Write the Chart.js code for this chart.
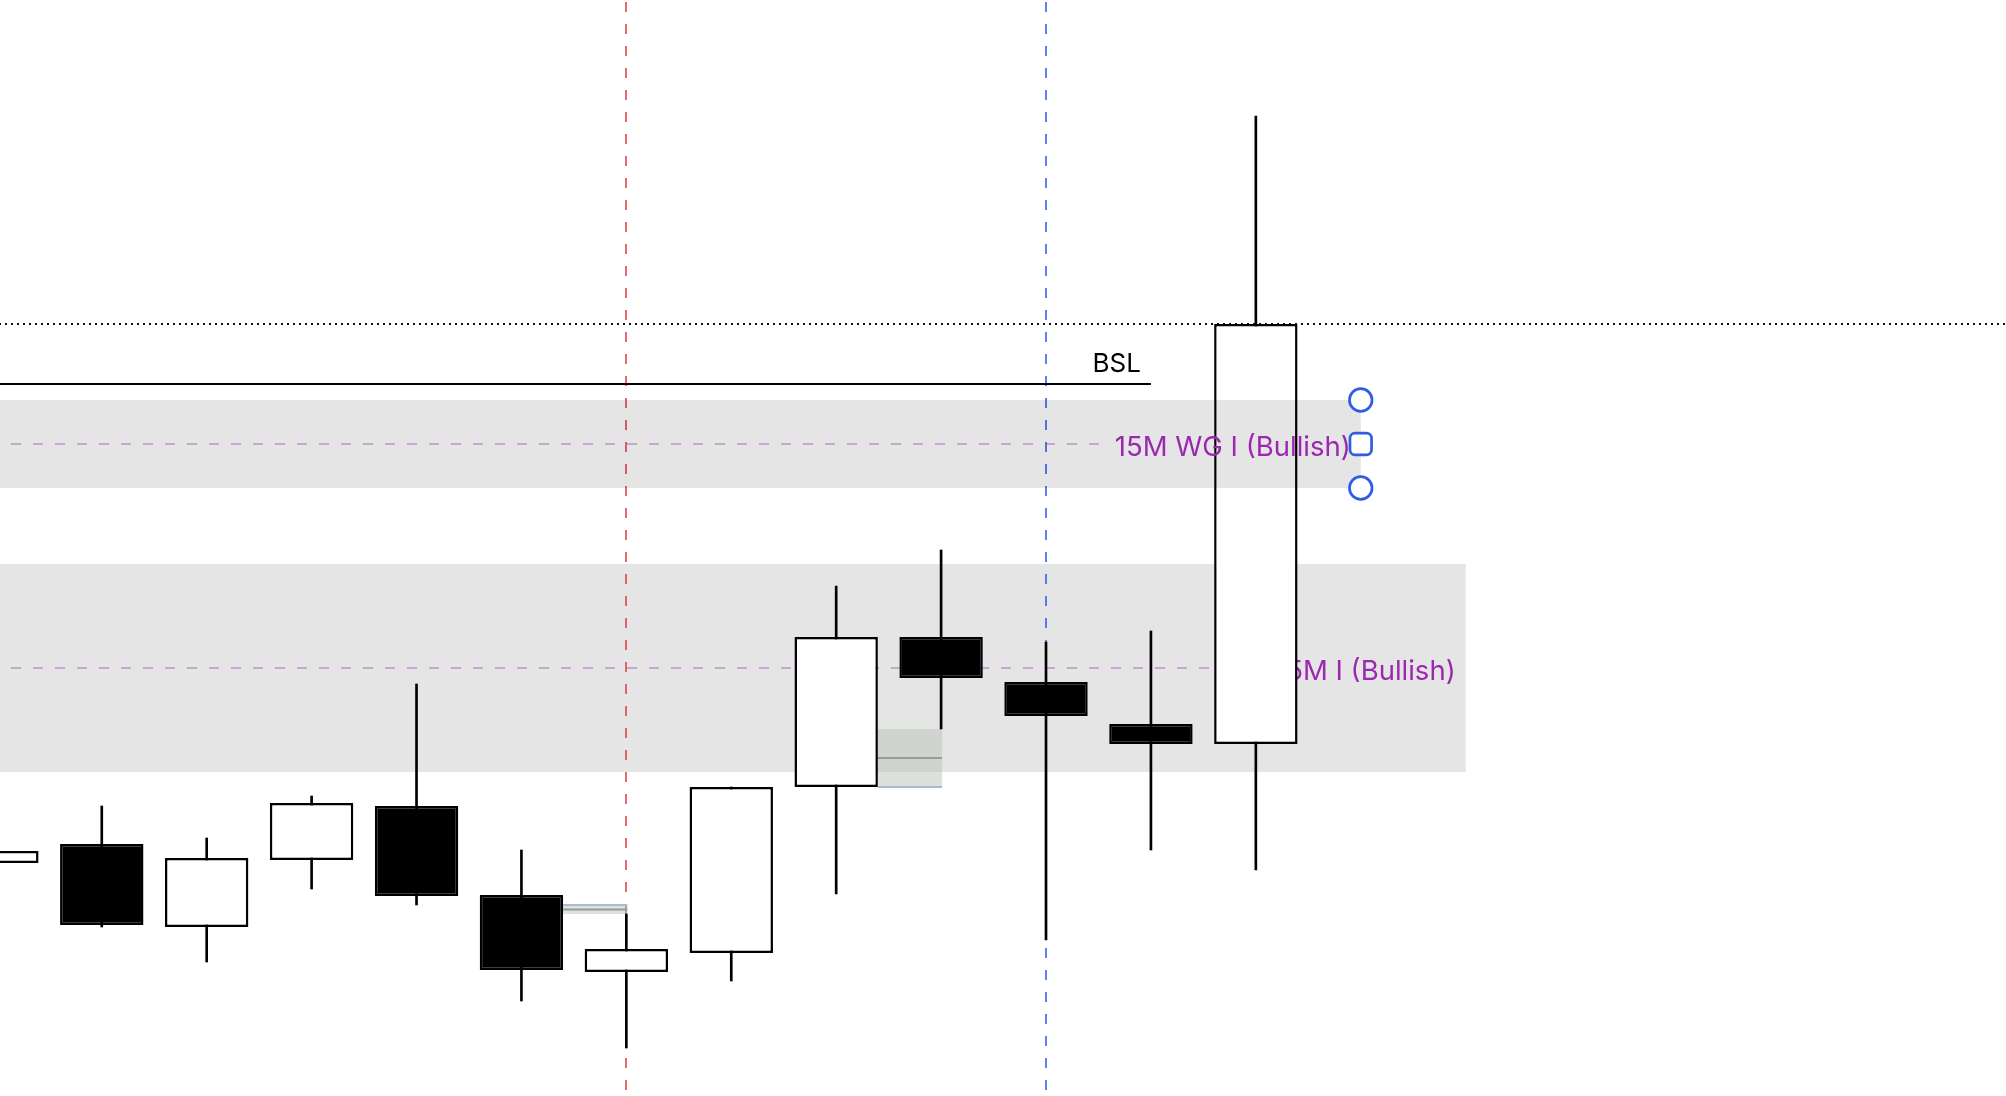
<!DOCTYPE html>
<html>
<head>
<meta charset="utf-8">
<title>15M zones</title>
<script src="https://cdn.jsdelivr.net/npm/chart.js@4.4.1/dist/chart.umd.min.js"></script>
<style>
  html, body { margin: 0; padding: 0; background: #fff; }
  #wrap { width: 2006px; height: 1096px; position: relative; }
</style>
</head>
<body>
<div id="wrap"><canvas id="candles"></canvas></div>
<script>
// candles, index 0 is the one cut off at the left edge
const bars   = [0, 1, 2, 3, 4, 5, 6, 7, 8, 9, 10, 11, 12];
const opens  = [21264.25, 21269.00, 21248.25, 21265.00, 21278.50, 21256.25, 21237.00, 21241.75, 21283.25, 21320.75, 21309.50, 21299.00, 21294.00];
const highs  = [21268.50, 21278.50, 21270.50, 21281.00, 21309.00, 21267.50, 21251.50, 21283.25, 21333.50, 21342.50, 21319.50, 21322.25, 21451.00];
const lows   = [21262.00, 21248.25, 21239.50, 21257.75, 21253.75, 21229.75, 21218.00, 21234.75, 21256.50, 21297.75, 21245.00, 21267.50, 21262.50];
const closes = [21267.25, 21248.75, 21265.50, 21279.25, 21256.00, 21237.50, 21242.75, 21283.25, 21320.75, 21310.50, 21301.00, 21294.00, 21399.00];

// visible window
const viewFrom = 0.03;
const viewTo = 19.15;
const priceBottom = 21206;
const priceTop = 21480;

// levels
const lastPrice = 21399.00;
const bslLevel = 21384.00;
const bslEnd = 11;

// 15M zones (0 = selected one)
const zoneNames  = ['15M WG I (Bullish)', '15M I (Bullish)'];
const zoneTop    = [21380.00, 21339.00];
const zoneBottom = [21358.00, 21287.00];
const zoneEnd    = [13, 14];

// 3-bar gaps, keyed by the middle candle
const gapMid    = [5, 8];
const gapTop    = [21253.75, 21297.75];
const gapBottom = [21251.50, 21283.25];
const gapEdge   = [21253.75, 21283.25];

// session markers
const sessionBars = [6, 10];

const bodyColors = bars.map(i => closes[i] >= opens[i] ? '#ffffff' : '#000000');

function hline(ctx, x0, x1, y) {
  ctx.beginPath();
  ctx.moveTo(x0, y);
  ctx.lineTo(x1, y);
  ctx.stroke();
}

function drawZone(ctx, x, y, area, i) {
  const right = x.getPixelForValue(zoneEnd[i]);
  const top = y.getPixelForValue(zoneTop[i]);
  const bottom = y.getPixelForValue(zoneBottom[i]);
  const mid = y.getPixelForValue((zoneTop[i] + zoneBottom[i]) / 2);
  ctx.fillStyle = 'rgba(0,0,0,0.1)';
  ctx.fillRect(area.left, top, right - area.left, bottom - top);

  ctx.font = '27.5px Inter';
  const tw = ctx.measureText(zoneNames[i]).width;
  const tx = right - 10;
  ctx.setLineDash([10, 12]);
  ctx.lineDashOffset = 11;
  ctx.strokeStyle = 'rgba(156,39,176,0.35)';
  ctx.lineWidth = 2;
  hline(ctx, area.left, tx - tw - 14, mid);
  ctx.setLineDash([]);
  ctx.fillStyle = '#9c27b0';
  ctx.textAlign = 'right';
  ctx.textBaseline = 'middle';
  ctx.fillText(zoneNames[i], tx, mid + 3.5);
  return { right, top, mid, bottom };
}

const drawings = {
  id: 'drawings',
  beforeDatasetsDraw(chart) {
    const { ctx, chartArea: area, scales: { x, y } } = chart;
    ctx.save();

    drawZone(ctx, x, y, area, 1);

    // session lines
    const sessionColors = ['#e0444f', '#3462ee'];
    ctx.lineWidth = 1.6;
    ctx.setLineDash([10, 12]);
    ctx.lineDashOffset = -2;
    sessionBars.forEach((b, k) => {
      const px = Math.round(x.getPixelForValue(b));
      ctx.strokeStyle = sessionColors[k];
      ctx.beginPath();
      ctx.moveTo(px, area.top);
      ctx.lineTo(px, area.bottom);
      ctx.stroke();
    });

    // last price, dotted
    ctx.strokeStyle = '#111';
    ctx.lineWidth = 2;
    ctx.setLineDash([2, 4]);
    ctx.lineDashOffset = -5;
    hline(ctx, area.left, area.right, y.getPixelForValue(lastPrice));

    // BSL
    ctx.setLineDash([]);
    ctx.strokeStyle = '#000';
    ctx.lineWidth = 2;
    const bslY = y.getPixelForValue(bslLevel);
    const bslX = x.getPixelForValue(bslEnd);
    hline(ctx, area.left, bslX, bslY);
    ctx.fillStyle = '#000';
    ctx.font = '26px Inter';
    ctx.textAlign = 'right';
    ctx.textBaseline = 'alphabetic';
    ctx.fillText('BSL', bslX - 10, bslY - 12);

    // gaps
    const bodies = chart.getDatasetMeta(0).data;
    gapMid.forEach((m, k) => {
      const x0 = bodies[m].x + bodies[m].width / 2;
      const x1 = x.getPixelForValue(m + 1) + 1;
      const t = y.getPixelForValue(gapTop[k]);
      const b = y.getPixelForValue(gapBottom[k]);
      ctx.fillStyle = 'rgba(182,192,182,0.48)';
      ctx.fillRect(x0, t, x1 - x0, b - t);
      ctx.strokeStyle = '#979c97';
      ctx.lineWidth = 2;
      hline(ctx, x0, x1, y.getPixelForValue((gapTop[k] + gapBottom[k]) / 2));
      ctx.strokeStyle = '#a9b9dc';
      hline(ctx, x0, x1, y.getPixelForValue(gapEdge[k]));
    });

    ctx.restore();
  },
  afterDatasetsDraw(chart) {
    const { ctx, chartArea: area, scales: { x, y } } = chart;
    ctx.save();
    const z = drawZone(ctx, x, y, area, 0);

    // selection handles
    ctx.setLineDash([]);
    ctx.strokeStyle = '#2f5ce6';
    ctx.fillStyle = '#ffffff';
    ctx.lineWidth = 2.7;
    [z.top, z.bottom].forEach(cy => {
      ctx.beginPath();
      ctx.arc(z.right, cy, 11.3, 0, Math.PI * 2);
      ctx.fill();
      ctx.stroke();
    });
    ctx.beginPath();
    ctx.roundRect(z.right - 10.8, z.mid - 10.8, 21.6, 21.6, 5);
    ctx.fill();
    ctx.stroke();
    ctx.restore();
  }
};

new Chart(document.getElementById('candles'), {
  type: 'bar',
  data: {
    datasets: [
      {
        label: 'body',
        data: bars.map(i => ({ x: i, y: [opens[i], closes[i]] })),
        backgroundColor: bodyColors,
        borderColor: '#000',
        borderWidth: 2.5,
        borderSkipped: false,
        barPercentage: 0.795,
        categoryPercentage: 1,
        grouped: false,
        order: 1
      },
      {
        label: 'wick',
        data: bars.map(i => ({ x: i, y: [lows[i], highs[i]] })),
        backgroundColor: '#000',
        borderWidth: 0,
        barThickness: 2,
        grouped: false,
        order: 2
      }
    ]
  },
  options: {
    responsive: true,
    maintainAspectRatio: false,
    animation: false,
    layout: { padding: 0 },
    plugins: {
      legend: { display: false },
      tooltip: { enabled: false }
    },
    scales: {
      x: {
        type: 'linear',
        min: viewFrom,
        max: viewTo,
        offset: false,
        display: false,
        afterBuildTicks: scale => { scale.ticks = bars.map(v => ({ value: v })); }
      },
      y: {
        min: priceBottom,
        max: priceTop,
        display: false
      }
    }
  },
  plugins: [drawings]
});
</script>
</body>
</html>
